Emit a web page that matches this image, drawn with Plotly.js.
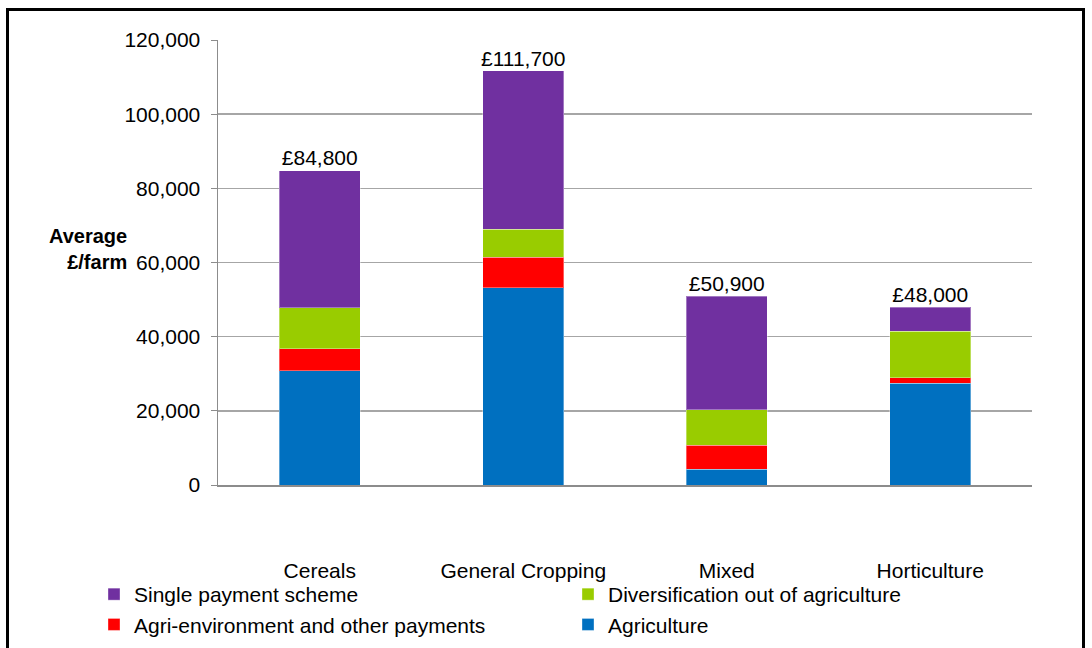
<!DOCTYPE html>
<html>
<head>
<meta charset="utf-8">
<script src="https://cdn.plot.ly/plotly-3.0.1.min.js"></script>
<style>
  html, body { margin: 0; padding: 0; background: #fff; }
  #chart { position: absolute; left: 0; top: 0; width: 1092px; height: 648px; }
  #frame { position: absolute; left: 6px; top: 8px; width: 1073px; height: 645px; border: 3px solid #000; pointer-events: none; }
</style>
</head>
<body>
<div id="chart"></div>
<div id="frame"></div>
<script>
const categories = ['Cereals', 'General Cropping', 'Mixed', 'Horticulture'];
const agriculture = [30800, 53200, 4200, 27400];
const agriEnvironment = [6000, 8200, 6500, 1500];
const diversification = [11000, 7600, 9600, 12500];
const singlePayment = [37000, 42700, 30600, 6600];
const totals = [84800, 111700, 50900, 48000];
const totalLabels = ['£84,800', '£111,700', '£50,900', '£48,000'];
const yTickVals = [0, 20000, 40000, 60000, 80000, 100000, 120000];
const yTickText = ['0', '20,000', '40,000', '60,000', '80,000', '100,000', '120,000'];

const font = 'Liberation Sans, Arial, sans-serif';
const fs = 21;

function barTrace(name, values, color, legendId) {
  return {
    type: 'bar', name: name, x: categories, y: values,
    marker: { color: color, line: { color: 'rgba(255,255,255,0.35)', width: 1 } },
    width: 0.4, hoverinfo: 'name+y', legend: legendId
  };
}

const data = [
  barTrace('Agriculture', agriculture, '#0070C0', 'legend2'),
  barTrace('Agri-environment and other payments', agriEnvironment, '#FF0000', 'legend'),
  barTrace('Diversification out of agriculture', diversification, '#99CC00', 'legend2'),
  barTrace('Single payment scheme', singlePayment, '#7030A0', 'legend'),
  {
    type: 'scatter', mode: 'text', x: categories, y: totals, text: totalLabels,
    textposition: 'top center', textfont: { family: font, size: fs, color: '#000' },
    showlegend: false, hoverinfo: 'skip', cliponaxis: false
  }
];

const legendCommon = {
  orientation: 'v', traceorder: 'reversed',
  yanchor: 'top', y: -0.2,
  xanchor: 'left',
  font: { family: font, size: fs, color: '#000' },
  itemwidth: 30, tracegroupgap: 0,
  bgcolor: 'rgba(0,0,0,0)'
};

const layout = {
  width: 1092, height: 648,
  margin: { l: 218, r: 60, t: 40, b: 163, autoexpand: false },
  paper_bgcolor: '#fff', plot_bgcolor: '#fff',
  barmode: 'stack',
  font: { family: font, size: fs, color: '#000' },
  xaxis: {
    type: 'category', range: [-0.5, 3.5],
    showgrid: false, zeroline: false,
    showline: true, linecolor: '#8c8c8c', linewidth: 2,
    ticks: 'outside', ticklen: 66, tickcolor: 'rgba(0,0,0,0)',
    tickfont: { family: font, size: fs, color: '#000' }
  },
  yaxis: {
    range: [0, 120000], tickvals: yTickVals, ticktext: yTickText,
    showgrid: true, gridcolor: '#a6a6a6', gridwidth: 1.5,
    zeroline: false, showline: true, linecolor: '#8c8c8c', linewidth: 1.5,
    ticks: 'outside', ticklen: 6, tickcolor: '#8c8c8c',
    ticklabelstandoff: 6,
    tickfont: { family: font, size: fs, color: '#000' }
  },
  legend: Object.assign({}, legendCommon, { x: (94 - 218) / 814 }),
  legend2: Object.assign({}, legendCommon, { x: (568 - 218) / 814 }),
  annotations: [{
    xref: 'paper', yref: 'paper',
    x: (129 - 218) / 814, y: (485 - 249) / 445,
    xanchor: 'right', yanchor: 'middle', align: 'right',
    text: '<b>Average</b><br><b>£/farm</b>', showarrow: false,
    font: { family: font, size: fs - 1, color: '#000' }
  }]
};

Plotly.newPlot('chart', data, layout, { displayModeBar: false, staticPlot: true });
</script>
</body>
</html>
